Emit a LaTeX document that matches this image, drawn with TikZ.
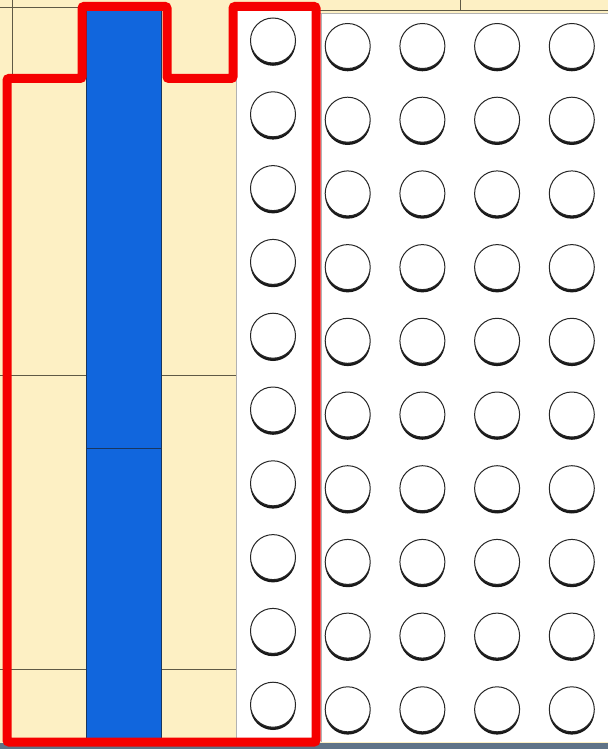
\documentclass[tikz,border=0pt]{standalone}
\usepackage{tikz}
\usetikzlibrary{positioning, shadows}
\definecolor{cream}{RGB}{253,240,196}
\definecolor{gridline}{RGB}{95,90,70}
\definecolor{slotblue}{RGB}{17,102,221}
\definecolor{slotedge}{RGB}{25,55,95}
\definecolor{framered}{RGB}{245,0,0}
\definecolor{steel}{RGB}{95,115,135}

\begin{document}
\begin{tikzpicture}[x=1pt, y=-1pt,
  cell/.style={draw=gridline, line width=0.8pt},
  faint/.style={draw=black!30, line width=0.6pt},
  slot/.style={fill=slotblue, draw=slotedge, line width=0.9pt},
  hole/.style={circle, draw=black!85, line width=1pt, fill=white, minimum size=45pt, inner sep=0pt,
    drop shadow={shadow xshift=0pt, shadow yshift=-2.8pt, fill=black, opacity=0.9}},
  frame/.style={draw=framered, line width=9pt, rounded corners=2pt},
]
  \useasboundingbox (0,0) rectangle (608,749);
  \fill[cream] (0,0) rectangle (608,749);
  \fill[white] (236,7) rectangle (316,742);
  \fill[white] (320,13) rectangle (608,742);
  \fill[steel] (0,743) rectangle (608,749);

  \draw[cell] (0,7) -- (86,7);
  \draw[cell] (12,0) -- (12,78);
  \draw[cell] (310,10.5) -- (608,10.5);
  \draw[faint] (320,13.5) -- (608,13.5);
  \draw[cell] (460,0) -- (460,10.5);
  \draw[cell] (0,375) -- (86,375);
  \draw[cell] (161,375) -- (236,375);
  \draw[cell] (0,669) -- (86,669);
  \draw[cell] (161,669) -- (236,669);
  \draw[faint] (236,7) -- (236,742);
  \draw[faint] (321,14) -- (321,742);

  \draw[slot] (86.5,9) rectangle (161.5,741);
  \draw[slotedge, line width=1pt] (86.5,448) -- (161.5,448);

  \foreach \r in {0,...,9} {
    \node[hole] (h\r-0) at (273,40.5+73.8*\r) {};
    \foreach \c in {1,...,4}
      \node[hole] (h\r-\c) at (273+74.7*\c,46+73.7*\r) {};
  }

  \draw[frame] (7,742) -- (7,78.5) -- (82,78.5) -- (82,6.5) -- (167,6.5) -- (167,78.5)
    -- (233,78.5) -- (233,6.5) -- (316,6.5) -- (316,742) -- cycle;
\end{tikzpicture}
\end{document}
